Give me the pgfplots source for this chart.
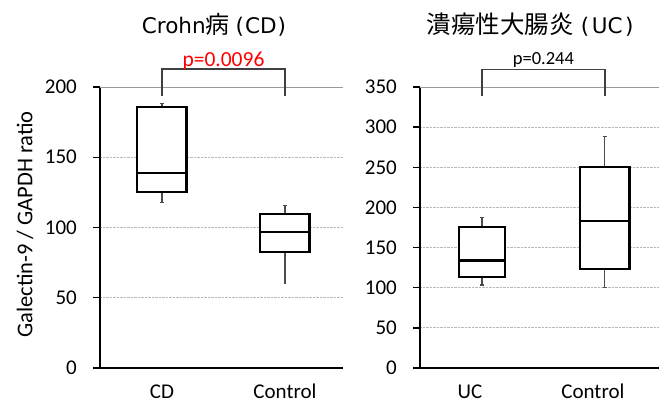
\documentclass[border=0pt]{standalone}
\usepackage{fontspec}
\setmainfont{Carlito}
\newfontfamily\cjk{Noto Sans CJK JP}
\newfontfamily\ttl{DejaVu Sans}
\usepackage{pgfplots}
\pgfplotsset{compat=1.18}
\definecolor{brk}{RGB}{64,64,64}
\newcommand{\tfont}{\fontsize{21pt}{21pt}\selectfont}
\pgfplotsset{
  boxst/.style={draw=black, line width=2.2pt, fill=white, line join=miter},
  medst/.style={draw=black, line width=2.2pt},
  whst/.style={draw=black!70, line width=1.1pt},
  mybox/.style={
    scale only axis, height=281pt,
    axis y line*=left, axis x line*=bottom,
    axis line style={black,line width=1.6pt,-},
    ymin=0,
    xtick={0,1},
    major x tick style={draw=none},
    major y tick style={black,line width=1.3pt},
    tick align=outside, major tick length=7pt,
    ymajorgrids, major grid style={gray!55, densely dotted, line width=0.8pt},
    clip=false,
    /pgf/number format/assume math mode=true,
    every tick label/.append style={font=\tfont},
    yticklabel style={font=\tfont, inner sep=0pt, anchor=east, xshift=-16pt},
    xticklabel style={font=\tfont, inner sep=0pt, text depth=0pt, anchor=base, yshift=-23.5pt},
  }
}
\begin{document}
\begin{tikzpicture}
\useasboundingbox (0,0) rectangle (659pt,404pt);
% Left panel
\begin{axis}[mybox, at={(100pt,36pt)}, anchor=south west, width=243pt,
  xmin=-0.504, xmax=1.472, ymax=200, ytick={0,50,...,200},
  xticklabels={CD,Control},
  extra y ticks={200}, extra y tick labels={},
  extra y tick style={major grid style={solid, gray!80, line width=0.9pt}}]
% CD
\addplot[whst] coordinates {(0,186) (0,188.4)};
\addplot[whst] coordinates {(-0.018,188.4) (0.018,188.4)};
\addplot[whst] coordinates {(0,125.5) (0,118)};
\addplot[whst] coordinates {(-0.018,118) (0.018,118)};
\addplot[boxst] coordinates {(-0.2,125.5) (0.2,125.5) (0.2,186) (-0.2,186)} -- cycle;
\addplot[medst] coordinates {(-0.2,138.8) (0.2,138.8)};
% Control
\addplot[whst] coordinates {(1,109.6) (1,115.8)};
\addplot[whst] coordinates {(0.982,115.8) (1.018,115.8)};
\addplot[whst] coordinates {(1,82.3) (1,59.6)};
\addplot[boxst] coordinates {(0.8,82.3) (1.2,82.3) (1.2,109.6) (0.8,109.6)} -- cycle;
\addplot[medst] coordinates {(0.8,97) (1.2,97)};
% bracket
\addplot[brk, line width=1.2pt] coordinates {(0,193.6) (0,212.8) (1,212.8) (1,193.6)};
\node[red, anchor=base, inner sep=0pt, font=\fontsize{21.5pt}{21.5pt}\selectfont] at (axis cs:0.5,214.4) {p=0.0096};
\end{axis}
% Right panel
\begin{axis}[mybox, at={(420pt,36pt)}, anchor=south west, width=239pt,
  xmin=-0.504, xmax=1.44, ymax=350, ytick={0,50,...,350},
  xticklabels={UC,Control},
  xticklabel style={xshift=-12pt},
  extra y ticks={350}, extra y tick labels={},
  extra y tick style={major grid style={solid, gray!80, line width=0.9pt}}]
% UC
\addplot[whst] coordinates {(0,175.6) (0,188)};
\addplot[whst] coordinates {(-0.018,188) (0.018,188)};
\addplot[whst] coordinates {(0,113.7) (0,103.4)};
\addplot[whst] coordinates {(-0.018,103.4) (0.018,103.4)};
\addplot[boxst] coordinates {(-0.19,113.7) (0.19,113.7) (0.19,175.6) (-0.19,175.6)} -- cycle;
\addplot[medst] coordinates {(-0.19,134) (0.19,134)};
% Control
\addplot[whst] coordinates {(1,250) (1,288)};
\addplot[whst] coordinates {(0.982,288) (1.018,288)};
\addplot[whst] coordinates {(1,123.7) (1,100.5)};
\addplot[whst] coordinates {(0.982,100.5) (1.018,100.5)};
\addplot[boxst] coordinates {(0.8,123.7) (1.2,123.7) (1.2,250) (0.8,250)} -- cycle;
\addplot[medst] coordinates {(0.8,182.7) (1.2,182.7)};
% bracket
\addplot[brk, line width=1.2pt] coordinates {(0,338.8) (0,371.5) (1,371.5) (1,338.8)};
\node[black, anchor=base, inner sep=0pt, font=\fontsize{18.5pt}{18.5pt}\selectfont] at (axis cs:0.5,378.6) {p=0.244};
\end{axis}
% Titles and y label
\node[anchor=base west, inner sep=0pt] at (141.7pt,370.5pt) {\fontsize{21.5pt}{21.5pt}\ttl Crohn{\fontsize{24pt}{24pt}\cjk 病}\hspace{6pt}(\hspace{1pt}CD\hspace{1pt})};
\node[anchor=base west, inner sep=0pt] at (426.7pt,370pt) {\fontsize{21.5pt}{21.5pt}\ttl{\fontsize{24.5pt}{24.5pt}\cjk 潰瘍性大腸炎}\hspace{7pt}(\hspace{2.5pt}UC\hspace{2.5pt})};
\node[rotate=90, inner sep=0pt, font=\fontsize{22.5pt}{22.5pt}\selectfont] at (25pt,179.5pt) {Galectin-9 / GAPDH ratio};
\end{tikzpicture}
\end{document}
